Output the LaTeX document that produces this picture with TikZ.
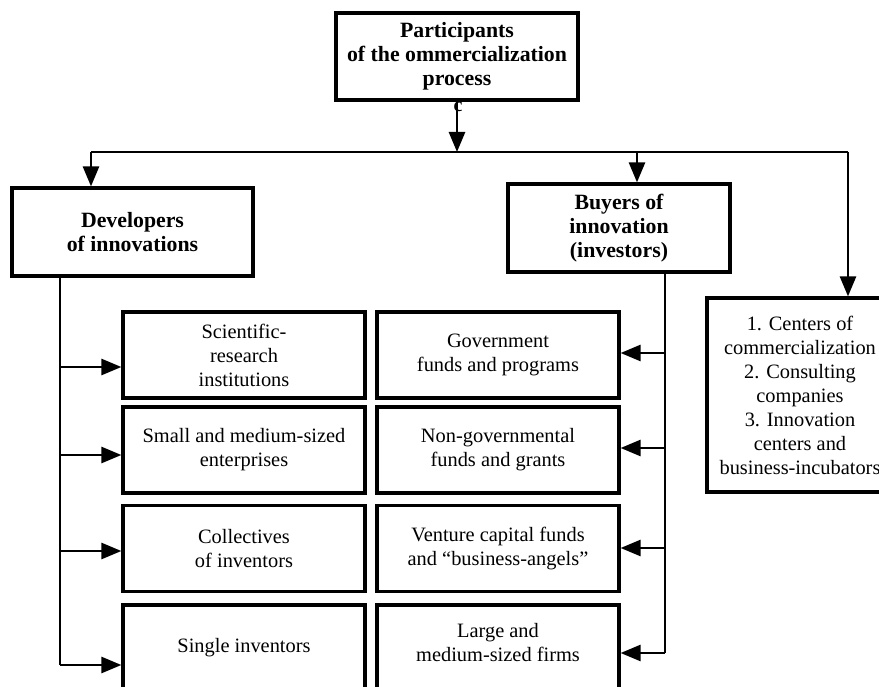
\documentclass[tikz,border=0pt]{standalone}
\usepackage{fontspec}
\setmainfont{Liberation Serif}
\usetikzlibrary{arrows.meta}
\begin{document}
\begin{tikzpicture}[x=1pt,y=-1pt,
  box/.style={draw,line width=3.2pt,minimum width=242pt,minimum height=86pt,align=center,inner sep=0pt,font=\fontsize{20.4}{24}\selectfont},
  hbox/.style={box,font=\fontsize{21.8}{24}\selectfont\bfseries},
  conn/.style={line width=2.6pt},
  arr/.style={conn,-{Triangle[length=20pt,width=16pt]}}]
\useasboundingbox (0,0) rectangle (879,687);
% headers
\node[hbox,minimum width=242pt,minimum height=87pt] (top) at (457,56.5) {Participants\\of the ommercialization\\process};
\node[font=\fontsize{20}{24}\selectfont\bfseries,inner sep=0pt,anchor=north] (c) at (458,102) {c};
\node[hbox,minimum width=241pt,minimum height=88pt] (dev) at (132.5,232) {Developers\\of innovations};
\node[hbox,minimum width=222pt,minimum height=88pt] (buy) at (619,228) {Buyers of\\innovation\\(investors)};
\node[box,minimum width=186pt,minimum height=194pt] (oth) at (800,395) {1. Centers of\\commercialization\\2. Consulting\\companies\\3. Innovation\\centers and\\business-incubators};
% left column
\node[box] (l1) at (244,355) {Scientific-\\research\\institutions};
\node[box] (l2) at (244,450) {Small and medium-sized\\enterprises};
\node[box] (l3) at (244,548.5) {Collectives\\of inventors};
\node[box] (l4) at (244,648) {Single inventors};
% right column
\node[box] (r1) at (498,355) {Government\\funds and programs};
\node[box] (r2) at (498,450) {Non-governmental\\funds and grants};
\node[box] (r3) at (498,548.5) {Venture capital funds\\and “business-angels”};
\node[box,text depth=11pt] (r4) at (498,648) {Large and\\medium-sized firms};
% top distribution
\coordinate (hc) at (457,152);
\coordinate (hl) at (91,152);
\coordinate (hm) at (637,152);
\coordinate (hr) at (848,152);
\draw[arr] (top.south) -- (hc);
\draw[conn] (hl) -- (hr);
\draw[arr] (hl) -- (hl |- dev.north);
\draw[arr] (hm) -- (hm |- buy.north);
\draw[arr] (hr) -- (hr |- oth.north);
% left spine
\coordinate (d1) at (60,367);
\coordinate (d2) at (60,455);
\coordinate (d3) at (60,551);
\coordinate (d4) at (60,665);
\draw[conn] (dev.south -| d4) -- (d4);
\draw[arr] (d1) -- (d1 -| l1.west);
\draw[arr] (d2) -- (d2 -| l2.west);
\draw[arr] (d3) -- (d3 -| l3.west);
\draw[arr] (d4) -- (d4 -| l4.west);
% right spine
\coordinate (b1) at (665,353);
\coordinate (b2) at (665,448);
\coordinate (b3) at (665,548);
\coordinate (b4) at (665,653);
\draw[conn] (buy.south -| b4) -- (b4);
\draw[arr] (b1) -- (b1 -| r1.east);
\draw[arr] (b2) -- (b2 -| r2.east);
\draw[arr] (b3) -- (b3 -| r3.east);
\draw[arr] (b4) -- (b4 -| r4.east);
\end{tikzpicture}
\end{document}
